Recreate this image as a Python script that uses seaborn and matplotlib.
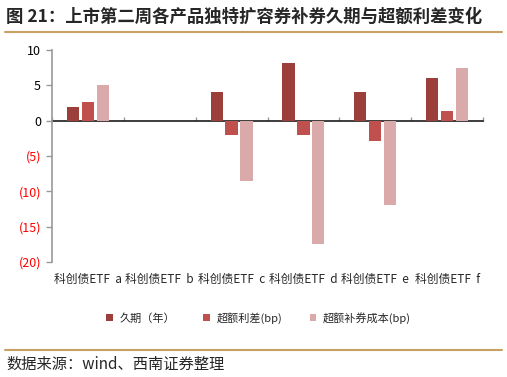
import matplotlib
matplotlib.use("Agg")
import matplotlib.pyplot as plt
import seaborn as sns
import pandas as pd
from matplotlib.lines import Line2D
from matplotlib.patches import Patch

categories = ["科创债ETF  a", "科创债ETF  b", "科创债ETF  c", "科创债ETF  d", "科创债ETF  e", "科创债ETF  f"]
series_names = ["久期（年）", "超额利差(bp)", "超额补券成本(bp)"]
duration = [1.9, 0.0, 4.1, 8.1, 4.1, 6.0]
spread = [2.6, 0.0, -2.0, -2.0, -2.9, 1.3]
cost = [5.1, 0.0, -8.5, -17.4, -12.0, 7.5]
yticks = [10, 5, 0, -5, -10, -15, -20]
ytick_labels = ["10", "5", "0", "(5)", "(10)", "(15)", "(20)"]
colors = ["#9C3F3B", "#C0504D", "#DAA9A9"]

sns.set_theme(style="white")
plt.rcParams['font.family'] = ['Noto Sans CJK SC', 'DejaVu Sans']

rows = []
for name, vals in zip(series_names, [duration, spread, cost]):
    for c, v in zip(categories, vals):
        rows.append({"cat": c, "series": name, "value": v})
df = pd.DataFrame(rows)

fig = plt.figure(figsize=(5.07, 3.77), dpi=100)
ax = fig.add_axes([52/507, 1-262/377, (483-52)/507, (262-50)/377])

sns.barplot(data=df, x="cat", y="value", hue="series", palette=colors,
            width=0.62, gap=0.18, ax=ax, legend=False, saturation=1,
            linewidth=0, edgecolor="none")

ax.set_ylim(-20, 10)
ax.set_xlim(-0.5, 5.5)
ax.set_yticks(yticks)
ax.set_yticklabels(ytick_labels, fontsize=9)
for lbl, t in zip(ax.get_yticklabels(), yticks):
    lbl.set_color("red" if t < 0 else "black")
ax.tick_params(axis='y', length=4, width=1, color="#999999", left=True, pad=4)
ax.set_xlabel("")
ax.set_ylabel("")
ax.tick_params(axis='x', length=0, labelsize=8.5, pad=8)
for s in ["top", "right", "bottom"]:
    ax.spines[s].set_visible(False)
ax.spines["left"].set_color("#999999")
ax.spines["left"].set_linewidth(1.2)

sec = ax.secondary_xaxis(2/3)
sec.set_xticks([i - 0.5 for i in range(7)])
sec.set_xticklabels([])
sec.tick_params(axis='x', length=3, width=1, color="#999999", direction="out")
sec.spines["bottom"].set_color("#999999")
sec.spines["bottom"].set_linewidth(1.5)

handles = [Patch(facecolor=c, edgecolor="none") for c in colors]
fig.legend(handles, series_names, loc="center", bbox_to_anchor=(0.51, 1-318/377),
           ncol=3, frameon=False, fontsize=8, handlelength=0.6, handleheight=0.6,
           columnspacing=2.5, handletextpad=0.6)

fig.text(6/507, 1-17/377, "图 21：上市第二周各产品独特扩容券补券久期与超额利差变化",
         fontsize=12.5, fontweight="bold", va="center", ha="left")
fig.add_artist(Line2D([5/507, 502/507], [1-32/377, 1-32/377], color="#C9A063", lw=1.5))
fig.add_artist(Line2D([5/507, 502/507], [1-350/377, 1-350/377], color="#C9A063", lw=1.5))
fig.text(6/507, 1-364/377, "数据来源：wind、西南证券整理", fontsize=11, style="italic",
         va="center", ha="left")

fig.savefig("out.png", dpi=100)
